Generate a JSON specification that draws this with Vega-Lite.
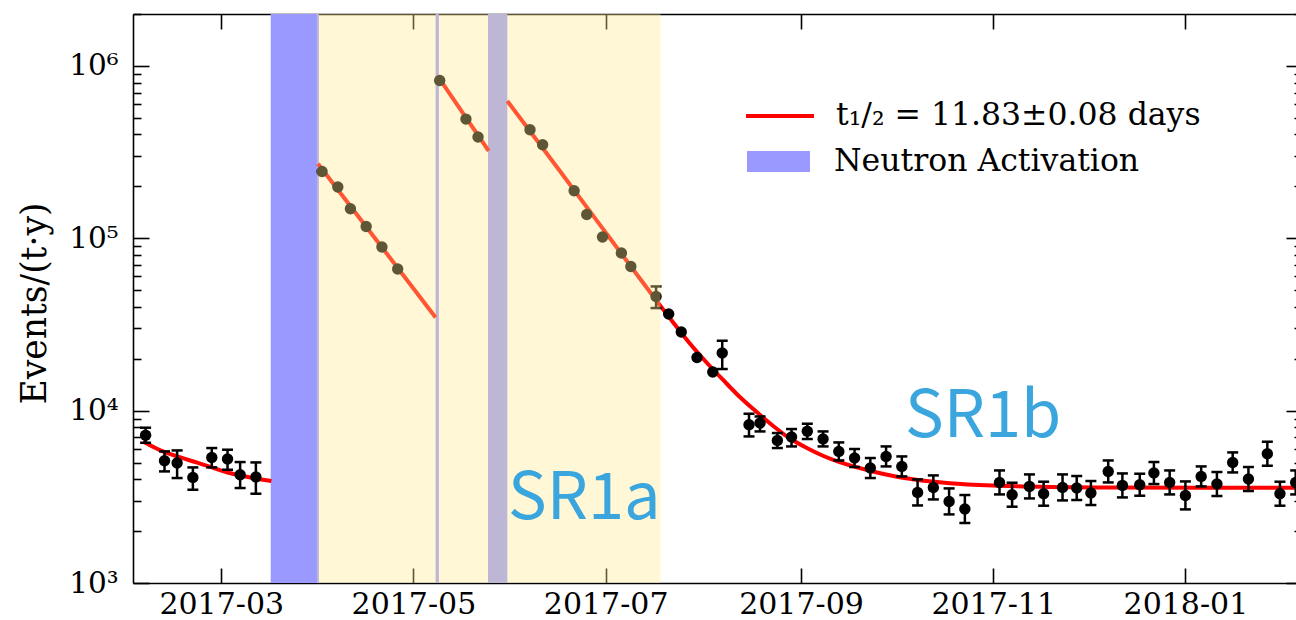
{
  "$schema": "https://vega.github.io/schema/vega-lite/v6.json",
  "width": 1169,
  "height": 569,
  "autosize": {"type": "none"},
  "padding": {"left": 133, "top": 14, "right": 0, "bottom": 37},
  "background": "white",
  "config": {
    "view": {"stroke": null},
    "font": "DejaVu Serif",
    "axis": {
      "grid": false,
      "domainColor": "black",
      "domainWidth": 1.6,
      "tickColor": "black",
      "tickWidth": 1.6,
      "labelColor": "black",
      "labelFont": "DejaVu Serif",
      "titleFont": "DejaVu Serif",
      "titleColor": "black",
      "labelOverlap": false
    },
    "legend": {"labelFont": "DejaVu Serif", "labelColor": "black", "padding": 0, "labelLimit": 600}
  },
  "datasets": {
    "activation": [
      {"start": "2017-03-16T17:00:00Z", "end": "2017-04-01T00:00:00Z"},
      {"start": "2017-05-08T01:00:00Z", "end": "2017-05-09T02:00:00Z"},
      {"start": "2017-05-24T16:00:00Z", "end": "2017-05-30T19:00:00Z"}
    ],
    "sr1a": [
      {"start": "2017-03-31T08:00:00Z", "end": "2017-07-18T10:00:00Z"}
    ],
    "rates": [
      {"d": "2017-02-05", "v": 7195, "lo": 6510, "hi": 7960},
      {"d": "2017-02-11", "v": 5120, "lo": 4440, "hi": 5800},
      {"d": "2017-02-15", "v": 4966, "lo": 4064, "hi": 5877},
      {"d": "2017-02-20", "v": 4098, "lo": 3476, "hi": 4683},
      {"d": "2017-02-26", "v": 5352, "lo": 4683, "hi": 6067},
      {"d": "2017-03-03", "v": 5239, "lo": 4540, "hi": 5933},
      {"d": "2017-03-07", "v": 4249, "lo": 3556, "hi": 5032},
      {"d": "2017-03-12", "v": 4120, "lo": 3296, "hi": 5006},
      {"d": "2017-04-02", "v": 244100},
      {"d": "2017-04-07", "v": 198200},
      {"d": "2017-04-11", "v": 148300},
      {"d": "2017-04-16", "v": 117100},
      {"d": "2017-04-21", "v": 88900},
      {"d": "2017-04-26", "v": 66300},
      {"d": "2017-05-09T08:00:00Z", "v": 822900},
      {"d": "2017-05-17T16:00:00Z", "v": 491300},
      {"d": "2017-05-21T12:00:00Z", "v": 386400},
      {"d": "2017-06-07", "v": 425900},
      {"d": "2017-06-11", "v": 348600},
      {"d": "2017-06-21", "v": 188600},
      {"d": "2017-06-25", "v": 137400},
      {"d": "2017-06-30", "v": 101600},
      {"d": "2017-07-06", "v": 82050},
      {"d": "2017-07-09", "v": 68600},
      {"d": "2017-07-17", "v": 45960, "lo": 39360, "hi": 52540},
      {"d": "2017-07-21", "v": 36340},
      {"d": "2017-07-25", "v": 28580},
      {"d": "2017-07-30", "v": 20350},
      {"d": "2017-08-04", "v": 16750},
      {"d": "2017-08-07", "v": 21590, "lo": 17430, "hi": 25440},
      {"d": "2017-08-15T12:00:00Z", "v": 8285, "lo": 7085, "hi": 9594},
      {"d": "2017-08-19", "v": 8472, "lo": 7574, "hi": 9250},
      {"d": "2017-08-24T12:00:00Z", "v": 6715, "lo": 6067, "hi": 7413},
      {"d": "2017-08-29", "v": 7028, "lo": 6199, "hi": 7820},
      {"d": "2017-09-03", "v": 7595, "lo": 6843, "hi": 8395},
      {"d": "2017-09-08", "v": 6843, "lo": 6199, "hi": 7574},
      {"d": "2017-09-13", "v": 5799, "lo": 5140, "hi": 6540},
      {"d": "2017-09-18", "v": 5309, "lo": 4708, "hi": 5989},
      {"d": "2017-09-23", "v": 4645, "lo": 4064, "hi": 5309},
      {"d": "2017-09-28", "v": 5424, "lo": 4746, "hi": 6199},
      {"d": "2017-10-03", "v": 4746, "lo": 4153, "hi": 5424},
      {"d": "2017-10-08", "v": 3354, "lo": 2818, "hi": 3990},
      {"d": "2017-10-13", "v": 3585, "lo": 3054, "hi": 4209},
      {"d": "2017-10-18", "v": 2973, "lo": 2500, "hi": 3538},
      {"d": "2017-10-23", "v": 2687, "lo": 2229, "hi": 3239},
      {"d": "2017-11-03", "v": 3832, "lo": 3265, "hi": 4498},
      {"d": "2017-11-07", "v": 3252, "lo": 2771, "hi": 3817},
      {"d": "2017-11-12T12:00:00Z", "v": 3634, "lo": 3095, "hi": 4265},
      {"d": "2017-11-17", "v": 3296, "lo": 2808, "hi": 3869},
      {"d": "2017-11-23", "v": 3585, "lo": 3014, "hi": 4265},
      {"d": "2017-11-27T12:00:00Z", "v": 3556, "lo": 3030, "hi": 4175},
      {"d": "2017-12-02", "v": 3327, "lo": 2834, "hi": 3905},
      {"d": "2017-12-07T12:00:00Z", "v": 4439, "lo": 3832, "hi": 5140},
      {"d": "2017-12-12", "v": 3683, "lo": 3137, "hi": 4322},
      {"d": "2017-12-17T12:00:00Z", "v": 3717, "lo": 3209, "hi": 4305},
      {"d": "2017-12-22", "v": 4345, "lo": 3751, "hi": 5033},
      {"d": "2017-12-27", "v": 3832, "lo": 3265, "hi": 4498},
      {"d": "2018-01-01", "v": 3222, "lo": 2673, "hi": 3884},
      {"d": "2018-01-06", "v": 4153, "lo": 3634, "hi": 4746},
      {"d": "2018-01-11", "v": 3751, "lo": 3196, "hi": 4404},
      {"d": "2018-01-16", "v": 5006, "lo": 4380, "hi": 5722},
      {"d": "2018-01-21", "v": 4011, "lo": 3417, "hi": 4708},
      {"d": "2018-01-27", "v": 5623, "lo": 4790, "hi": 6601},
      {"d": "2018-01-31", "v": 3296, "lo": 2808, "hi": 3869},
      {"d": "2018-02-05", "v": 3832, "lo": 3265, "hi": 4498}
    ],
    "fit": [
      {"seg": "pre", "d": "2017-02-04T04:00:00Z", "v": 6625},
      {"seg": "pre", "d": "2017-02-10T12:00:00Z", "v": 5798},
      {"seg": "pre", "d": "2017-02-15T19:00:00Z", "v": 5367},
      {"seg": "pre", "d": "2017-02-21T03:00:00Z", "v": 5005},
      {"seg": "pre", "d": "2017-02-26T07:00:00Z", "v": 4665},
      {"seg": "pre", "d": "2017-03-03T17:00:00Z", "v": 4345},
      {"seg": "pre", "d": "2017-03-09T02:00:00Z", "v": 4137},
      {"seg": "pre", "d": "2017-03-14T06:00:00Z", "v": 3975},
      {"seg": "pre", "d": "2017-03-16T22:00:00Z", "v": 3906},
      {"seg": "a1", "d": "2017-03-31T17:00:00Z", "v": 270400},
      {"seg": "a1", "d": "2017-05-08T01:00:00Z", "v": 34720},
      {"seg": "a2", "d": "2017-05-09T02:00:00Z", "v": 853000},
      {"seg": "a2", "d": "2017-05-24T21:00:00Z", "v": 321700},
      {"seg": "main", "d": "2017-05-30T19:00:00Z", "v": 625000},
      {"seg": "main", "d": "2017-06-16T10:00:00Z", "v": 246400},
      {"seg": "main", "d": "2017-07-02T06:00:00Z", "v": 100670},
      {"seg": "main", "d": "2017-07-11T19:00:00Z", "v": 58610},
      {"seg": "main", "d": "2017-07-18T03:00:00Z", "v": 41150},
      {"seg": "main", "d": "2017-07-22T09:00:00Z", "v": 32570},
      {"seg": "main", "d": "2017-07-27T16:00:00Z", "v": 24600},
      {"seg": "main", "d": "2017-08-01T23:00:00Z", "v": 19090},
      {"seg": "main", "d": "2017-08-07T05:00:00Z", "v": 15110},
      {"seg": "main", "d": "2017-08-12T12:00:00Z", "v": 12040},
      {"seg": "main", "d": "2017-08-17T20:00:00Z", "v": 9854},
      {"seg": "main", "d": "2017-08-23T02:00:00Z", "v": 8176},
      {"seg": "main", "d": "2017-08-28T09:00:00Z", "v": 6916},
      {"seg": "main", "d": "2017-09-02T17:00:00Z", "v": 6093},
      {"seg": "main", "d": "2017-09-07T23:00:00Z", "v": 5475},
      {"seg": "main", "d": "2017-09-13T06:00:00Z", "v": 5020},
      {"seg": "main", "d": "2017-09-22T19:00:00Z", "v": 4481},
      {"seg": "main", "d": "2017-10-02T07:00:00Z", "v": 4109},
      {"seg": "main", "d": "2017-10-18T04:00:00Z", "v": 3793},
      {"seg": "main", "d": "2017-11-03T01:00:00Z", "v": 3668},
      {"seg": "main", "d": "2017-11-18T22:00:00Z", "v": 3609},
      {"seg": "main", "d": "2017-12-11T03:00:00Z", "v": 3581},
      {"seg": "main", "d": "2018-01-05T12:00:00Z", "v": 3571},
      {"seg": "main", "d": "2018-02-07T00:00:00Z", "v": 3571}
    ],
    "runs": [
      {"label": "SR1a", "d": "2017-05-31T00:00:00Z", "v": 2350},
      {"label": "SR1b", "d": "2017-10-04T00:00:00Z", "v": 6990}
    ]
  },
  "layer": [
    {
      "data": {"name": "activation"},
      "mark": {"type": "rect"},
      "encoding": {
        "x": {
          "field": "start",
          "type": "temporal",
          "scale": {
            "type": "utc",
            "nice": false,
            "domain": [
              {"year": 2017, "month": 2, "date": 1, "utc": true},
              {"year": 2018, "month": 2, "date": 7, "utc": true}
            ]
          },
          "axis": {
            "orient": "bottom",
            "title": null,
            "values": [
              {"year": 2017, "month": 3, "date": 1, "utc": true},
              {"year": 2017, "month": 5, "date": 1, "utc": true},
              {"year": 2017, "month": 7, "date": 1, "utc": true},
              {"year": 2017, "month": 9, "date": 1, "utc": true},
              {"year": 2017, "month": 11, "date": 1, "utc": true},
              {"year": 2018, "month": 1, "date": 1, "utc": true}
            ],
            "format": "%Y-%m",
            "labelFontSize": 30,
            "labelPadding": 21,
            "tickSize": -15
          }
        },
        "x2": {"field": "end"},
        "y": {
          "datum": 1000,
          "type": "quantitative",
          "scale": {"type": "log", "domain": [1000, 2000000], "nice": false},
          "axis": {
            "orient": "left",
            "title": "Events/(t·y)",
            "titleFontSize": 34.5,
            "titleFontWeight": "normal",
            "titleX": -81,
            "titleY": 289,
            "values": [1000, 2000, 3000, 4000, 5000, 6000, 7000, 8000, 9000, 10000, 20000, 30000, 40000, 50000, 60000, 70000, 80000, 90000, 100000, 200000, 300000, 400000, 500000, 600000, 700000, 800000, 900000, 1000000, 2000000],
            "labelExpr": "datum.value == 1000 ? '10³' : datum.value == 10000 ? '10⁴' : datum.value == 100000 ? '10⁵' : datum.value == 1000000 ? '10⁶' : ''",
            "labelFontSize": 29.5,
            "labelPadding": 31,
            "labelBaseline": "middle",
            "tickSize": {
              "condition": {"test": "datum.value == 1000 || datum.value == 10000 || datum.value == 100000 || datum.value == 1000000", "value": -16},
              "value": -8
            }
          }
        },
        "y2": {"datum": 2000000},
        "fill": {
          "datum": "Neutron Activation",
          "type": "nominal",
          "scale": {"range": ["#9999ff"]},
          "legend": {
            "orient": "none",
            "legendX": 614,
            "legendY": 116,
            "title": null,
            "symbolType": "M-1,-0.333H1V0.333H-1Z",
            "symbolSize": 3969,
            "symbolStrokeWidth": 0,
            "symbolOpacity": 1,
            "labelFontSize": 31.5,
            "labelOffset": 24
          }
        }
      }
    },
    {
      "data": {"name": "fit"},
      "mark": {"type": "line", "strokeWidth": 4, "interpolate": "monotone"},
      "encoding": {
        "x": {
          "field": "d",
          "type": "temporal",
          "axis": {
            "orient": "top",
            "title": null,
            "labels": false,
            "values": [
              {"year": 2017, "month": 3, "date": 1, "utc": true},
              {"year": 2017, "month": 5, "date": 1, "utc": true},
              {"year": 2017, "month": 7, "date": 1, "utc": true},
              {"year": 2017, "month": 9, "date": 1, "utc": true},
              {"year": 2017, "month": 11, "date": 1, "utc": true},
              {"year": 2018, "month": 1, "date": 1, "utc": true}
            ],
            "tickSize": -15
          }
        },
        "y": {
          "field": "v",
          "type": "quantitative",
          "axis": {
            "orient": "right",
            "title": null,
            "labels": false,
            "values": [1000, 2000, 3000, 4000, 5000, 6000, 7000, 8000, 9000, 10000, 20000, 30000, 40000, 50000, 60000, 70000, 80000, 90000, 100000, 200000, 300000, 400000, 500000, 600000, 700000, 800000, 900000, 1000000, 2000000],
            "tickSize": {
              "condition": {"test": "datum.value == 1000 || datum.value == 10000 || datum.value == 100000 || datum.value == 1000000", "value": -16},
              "value": -8
            }
          }
        },
        "detail": {"field": "seg"},
        "stroke": {
          "datum": "t₁/₂ = 11.83±0.08 days",
          "type": "nominal",
          "scale": {"range": ["#ff0000"]},
          "legend": {
            "orient": "none",
            "legendX": 611,
            "legendY": 66,
            "title": null,
            "symbolType": "stroke",
            "symbolSize": 4624,
            "symbolStrokeWidth": 4,
            "labelFontSize": 31.5,
            "labelOffset": 20
          }
        }
      }
    },
    {
      "data": {"name": "rates"},
      "transform": [{"filter": "isValid(datum.lo)"}],
      "mark": {"type": "rule", "color": "black", "strokeWidth": 2.5},
      "encoding": {
        "x": {"field": "d", "type": "temporal", "axis": null},
        "y": {"field": "lo", "type": "quantitative", "axis": null},
        "y2": {"field": "hi"}
      }
    },
    {
      "data": {"name": "rates"},
      "transform": [{"filter": "isValid(datum.lo)"}],
      "mark": {"type": "point", "shape": "stroke", "size": 121, "filled": false, "color": "black", "strokeWidth": 2.5, "opacity": 1},
      "encoding": {
        "x": {"field": "d", "type": "temporal", "axis": null},
        "y": {"field": "lo", "type": "quantitative", "axis": null}
      }
    },
    {
      "data": {"name": "rates"},
      "transform": [{"filter": "isValid(datum.hi)"}],
      "mark": {"type": "point", "shape": "stroke", "size": 121, "filled": false, "color": "black", "strokeWidth": 2.5, "opacity": 1},
      "encoding": {
        "x": {"field": "d", "type": "temporal", "axis": null},
        "y": {"field": "hi", "type": "quantitative", "axis": null}
      }
    },
    {
      "data": {"name": "rates"},
      "mark": {"type": "circle", "size": 130, "color": "black", "opacity": 1},
      "encoding": {
        "x": {"field": "d", "type": "temporal", "axis": null},
        "y": {"field": "v", "type": "quantitative", "axis": null}
      }
    },
    {
      "data": {"name": "sr1a"},
      "mark": {"type": "rect", "color": "#ffe98c", "opacity": 0.37},
      "encoding": {
        "x": {"field": "start", "type": "temporal", "axis": null},
        "x2": {"field": "end"},
        "y": {"datum": 1000, "type": "quantitative", "axis": null},
        "y2": {"datum": 2000000}
      }
    },
    {
      "data": {"name": "runs"},
      "mark": {"type": "text", "font": "Noto Sans CJK JP", "fontSize": 65, "color": "#3aa6dd", "align": "left", "baseline": "alphabetic"},
      "encoding": {
        "x": {"field": "d", "type": "temporal", "axis": null},
        "y": {"field": "v", "type": "quantitative", "axis": null},
        "text": {"field": "label"}
      }
    }
  ],
  "resolve": {"axis": {"x": "independent", "y": "independent"}}
}
